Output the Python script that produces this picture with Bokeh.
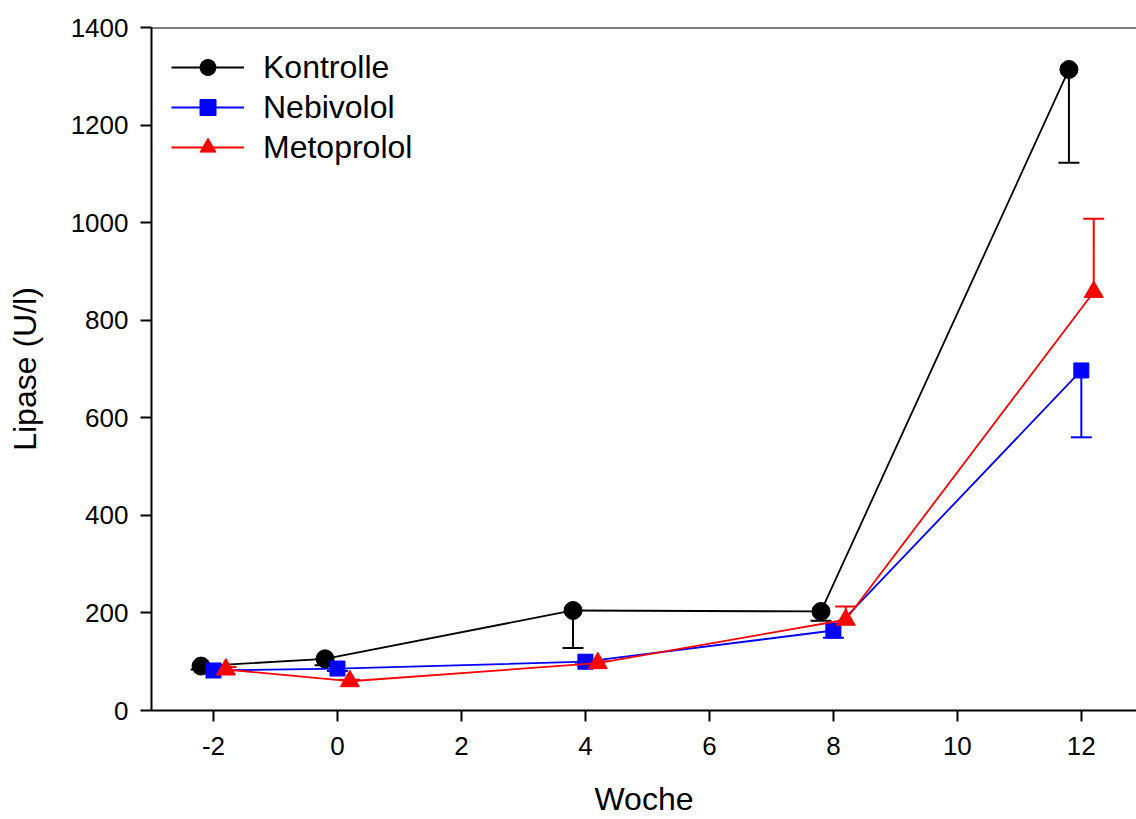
from bokeh.plotting import figure
from bokeh.models import (ColumnDataSource, Whisker, TeeHead, Legend, LegendItem,
                          FixedTicker, Span, Range1d)
from bokeh.embed import file_html
from bokeh.resources import INLINE

# Data
weeks = [-2, 0, 4, 8, 12]
kontrolle = [91, 106, 205, 203, 1314]
kontrolle_err = [7, 13, 77, 19, 191]          # drawn downward
nebivolol = [82, 86, 100, 164, 697]
nebivolol_err = [4, 5, 5, 15, 137]            # drawn downward
metoprolol = [84, 60, 97, 186, 858]
metoprolol_err = [5, 3, 4, 27, 150]           # drawn upward
offsets = {"Kontrolle": -0.2, "Nebivolol": 0.0, "Metoprolol": 0.2}
x_ticks = [-2, 0, 2, 4, 6, 8, 10, 12]
y_ticks = [0, 200, 400, 600, 800, 1000, 1200, 1400]
x_title = "Woche"
y_title = "Lipase (U/l)"

FONT = "Liberation Sans"
X0, X1 = -3, 12.89
Y0, Y1 = 0, 1400

p = figure(width=1136, height=819, output_backend="svg", toolbar_location=None,
           x_range=Range1d(X0, X1), y_range=Range1d(Y0, Y1),
           min_border_left=151, min_border_right=0, min_border_top=27,
           min_border_bottom=108)
p.outline_line_color = None
p.grid.visible = False
p.background_fill_color = "white"

for ax in (p.xaxis[0], p.yaxis[0]):
    ax.axis_line_width = 2
    ax.major_tick_line_width = 2
    ax.major_tick_out = 11
    ax.major_tick_in = 0
    ax.minor_tick_out = 0
    ax.minor_tick_in = 0
    ax.major_label_text_font = FONT
    ax.major_label_text_font_size = "26px"
    ax.major_label_text_color = "black"
    ax.axis_label_text_font = FONT
    ax.axis_label_text_font_size = "32px"
    ax.axis_label_text_font_style = "normal"
    ax.axis_label_text_color = "black"

p.xaxis.ticker = FixedTicker(ticks=x_ticks)
p.yaxis.ticker = FixedTicker(ticks=y_ticks)
p.xaxis.major_label_overrides = {-2: "-2"}
p.xaxis.axis_label = x_title
p.yaxis.axis_label = y_title
p.xaxis.major_label_standoff = 15
p.yaxis.major_label_standoff = 12
p.xaxis.axis_label_standoff = 23
p.yaxis.axis_label_standoff = 25

p.add_layout(Span(location=Y1, dimension="width", line_color="black", line_width=2))

series = [
    ("Kontrolle", kontrolle, kontrolle_err, -1, "black", "circle", 18),
    ("Nebivolol", nebivolol, nebivolol_err, -1, "blue", "square", 15),
    ("Metoprolol", metoprolol, metoprolol_err, 1, "red", "triangle", 19),
]

items = []
for name, vals, errs, sign, color, marker, size in series:
    xs = [w + offsets[name] for w in weeks]
    ends = [v + sign * e for v, e in zip(vals, errs)]
    src = ColumnDataSource(dict(x=xs, y=vals, end=ends))
    w = Whisker(source=src, base="x", lower="y", upper="end", dimension="height",
                line_color=color, line_width=2, lower_head=None,
                upper_head=TeeHead(size=21, line_color=color, line_width=2))
    p.add_layout(w)
    ln = p.line("x", "y", source=src, line_color=color, line_width=1.8)
    sc = p.scatter("x", "y", source=src, marker=marker, size=size,
                   fill_color=color, line_color=color)
    items.append(LegendItem(label=name, renderers=[ln, sc]))

legend = Legend(items=items, location="top_left", margin=20, padding=15,
                glyph_width=73, glyph_height=40, spacing=0, label_standoff=19,
                label_text_font=FONT, label_text_font_size="32px",
                label_text_color="black",
                label_height=40, border_line_color=None, background_fill_alpha=0)
p.add_layout(legend)

open("out.html", "w").write(file_html(p, INLINE))
